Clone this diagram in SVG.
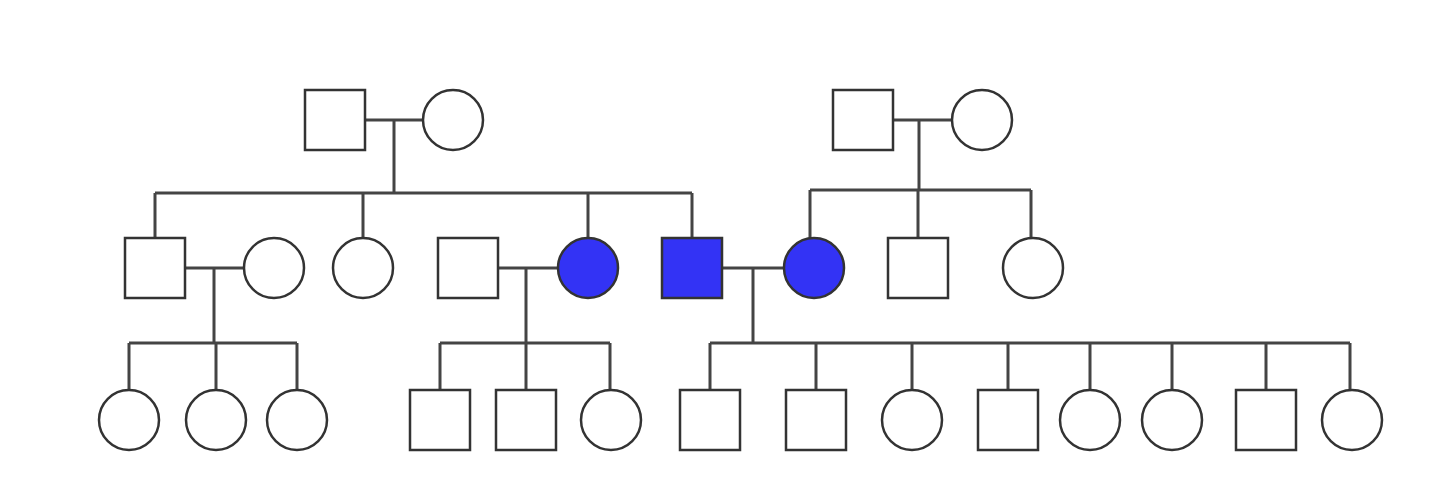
<svg xmlns="http://www.w3.org/2000/svg" width="1440" height="488" viewBox="0 0 1440 488">
<style>
.n{fill:#fff;stroke:#333;stroke-width:2.5}
.a{fill:#3333f5;stroke:#333;stroke-width:2.5}
.c{fill:none;stroke:#444;stroke-width:3}
</style>
<rect width="1440" height="488" fill="#fff"/>
<g id="connectors" class="c">
<path d="M365 120H423M394 120V193M155 193H692M155 193V238M363 193V238M588 193V238M692 193V238"/>
<path d="M893 120H952M919 120V190M810 190H1031M810 190V238M918 190V238M1031 190V238"/>
<path d="M185 268H244M214 268V343M129 343H297M129 343V390M216 343V390M297 343V390"/>
<path d="M498 268H558M526 268V343M440 343H610M440 343V390M526 343V390M610 343V390"/>
<path d="M722 268H784M753 268V343M710 343H1350M710 343V390M816 343V390M912 343V390M1008 343V390M1090 343V390M1172 343V390M1266 343V390M1350 343V390"/>
</g>
<g id="g1m1"><rect class="n" x="305" y="90" width="60" height="60"/></g>
<g id="g1f1"><circle class="n" cx="453" cy="120" r="30"/></g>
<g id="g1m2"><rect class="n" x="833" y="90" width="60" height="60"/></g>
<g id="g1f2"><circle class="n" cx="982" cy="120" r="30"/></g>
<g id="g2a"><rect class="n" x="125" y="238" width="60" height="60"/></g>
<g id="g2b"><circle class="n" cx="274" cy="268" r="30"/></g>
<g id="g2c"><circle class="n" cx="363" cy="268" r="30"/></g>
<g id="g2d"><rect class="n" x="438" y="238" width="60" height="60"/></g>
<g id="g2e"><circle class="a" cx="588" cy="268" r="30"/></g>
<g id="g2f"><rect class="a" x="662" y="238" width="60" height="60"/></g>
<g id="g2g"><circle class="a" cx="814" cy="268" r="30"/></g>
<g id="g2h"><rect class="n" x="888" y="238" width="60" height="60"/></g>
<g id="g2i"><circle class="n" cx="1033" cy="268" r="30"/></g>
<g id="g3a"><circle class="n" cx="129" cy="420" r="30"/></g>
<g id="g3b"><circle class="n" cx="216" cy="420" r="30"/></g>
<g id="g3c"><circle class="n" cx="297" cy="420" r="30"/></g>
<g id="g3d"><rect class="n" x="410" y="390" width="60" height="60"/></g>
<g id="g3e"><rect class="n" x="496" y="390" width="60" height="60"/></g>
<g id="g3f"><circle class="n" cx="611" cy="420" r="30"/></g>
<g id="g3g"><rect class="n" x="680" y="390" width="60" height="60"/></g>
<g id="g3h"><rect class="n" x="786" y="390" width="60" height="60"/></g>
<g id="g3i"><circle class="n" cx="912" cy="420" r="30"/></g>
<g id="g3j"><rect class="n" x="978" y="390" width="60" height="60"/></g>
<g id="g3k"><circle class="n" cx="1090" cy="420" r="30"/></g>
<g id="g3l"><circle class="n" cx="1172" cy="420" r="30"/></g>
<g id="g3m"><rect class="n" x="1236" y="390" width="60" height="60"/></g>
<g id="g3n"><circle class="n" cx="1352" cy="420" r="30"/></g>
</svg>
